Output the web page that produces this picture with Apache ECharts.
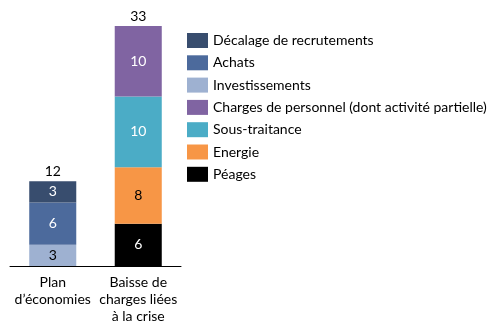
<!DOCTYPE html>
<html>
<head>
<meta charset="utf-8">
<script src="https://cdn.jsdelivr.net/npm/echarts@6/dist/echarts.min.js"></script>
<style>
  html, body { margin: 0; padding: 0; background: #fff; }
  #chart { width: 498px; height: 329px; }
</style>
</head>
<body>
<div id="chart"></div>
<script>
// Catégories (axe horizontal)
const categories = ['Plan\nd\u2019économies', 'Baisse de\ncharges liées\nà la crise'];

// Séries empilées, du bas vers le haut
const investissements = [3, null];
const achats = [6, null];
const decalage = [3, null];
const peages = [null, 6];
const energie = [null, 8];
const sousTraitance = [null, 10];
const chargesPersonnel = [null, 10];

// Totaux affichés au-dessus des barres
const totals = [12, 33];

// Ordre de la légende
const legendOrder = [
  'Décalage de recrutements',
  'Achats',
  'Investissements',
  'Charges de personnel (dont activité partielle)',
  'Sous-traitance',
  'Energie',
  'Péages'
];

const FONT = 'Lato';
const FS = 14;

function stackSeries(name, data, color, labelColor) {
  return {
    name: name,
    type: 'bar',
    stack: 'total',
    barWidth: '55%',
    data: data,
    itemStyle: { color: color },
    label: {
      show: true,
      position: 'inside',
      color: labelColor,
      fontFamily: FONT,
      fontSize: FS
    },
    emphasis: { disabled: true }
  };
}

const chart = echarts.init(document.getElementById('chart'));
chart.setOption({
  animation: false,
  backgroundColor: '#ffffff',
  grid: { left: 10, right: 317, top: 26, bottom: 63, containLabel: false },
  legend: {
    data: legendOrder,
    orient: 'vertical',
    left: 182,
    top: 28,
    itemWidth: 21,
    itemHeight: 15,
    itemGap: 7.3,
    icon: 'rect',
    textStyle: { color: '#000', fontFamily: FONT, fontSize: FS }
  },
  xAxis: {
    type: 'category',
    data: categories,
    axisLine: { show: true, lineStyle: { color: '#000', width: 1 } },
    axisTick: { show: false },
    axisLabel: {
      color: '#000',
      fontFamily: FONT,
      fontSize: FS,
      lineHeight: 17,
      margin: 8,
      interval: 0
    }
  },
  yAxis: {
    type: 'value',
    min: 0,
    max: 34,
    show: false,
    splitLine: { show: false }
  },
  series: [
    stackSeries('Investissements', investissements, '#9EB1D1', '#000'),
    stackSeries('Achats', achats, '#4C6A9C', '#fff'),
    stackSeries('Décalage de recrutements', decalage, '#384D6E', '#fff'),
    stackSeries('Péages', peages, '#000000', '#fff'),
    stackSeries('Energie', energie, '#F79646', '#000'),
    stackSeries('Sous-traitance', sousTraitance, '#4BACC6', '#fff'),
    stackSeries('Charges de personnel (dont activité partielle)', chargesPersonnel, '#8064A2', '#fff'),
    {
      name: 'Total',
      type: 'bar',
      stack: 'total',
      barWidth: '55%',
      data: totals.map(function () { return 0; }),
      itemStyle: { color: 'transparent' },
      label: {
        show: true,
        position: 'top',
        distance: 3,
        color: '#000',
        fontFamily: FONT,
        fontSize: FS,
        formatter: function (p) { return totals[p.dataIndex]; }
      },
      emphasis: { disabled: true }
    }
  ]
});
</script>
</body>
</html>
